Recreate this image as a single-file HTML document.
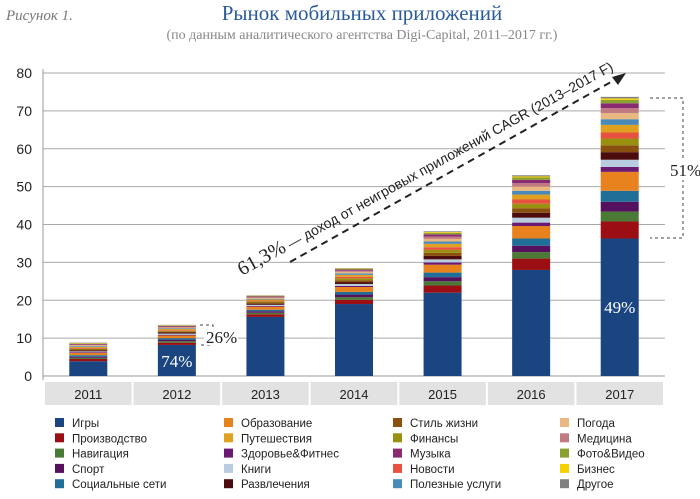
<!DOCTYPE html>
<html><head><meta charset="utf-8"><style>
body{margin:0;background:#fff;}
svg{display:block;font-family:"Liberation Sans","Noto Sans CJK SC",sans-serif;}
</style></head><body>
<svg id="c" width="700" height="499" viewBox="0 0 700 499">
<text x="6" y="20" font-family="Liberation Serif,serif" font-style="italic" font-size="15" fill="#777">Рисунок 1.</text>
<text x="362" y="20" text-anchor="middle" font-family="Liberation Serif,serif" font-size="21" fill="#2a5a9a">Рынок мобильных приложений</text>
<text x="362" y="39" text-anchor="middle" font-family="Liberation Serif,serif" font-size="14" fill="#888">(по данным аналитического агентства Digi-Capital, 2011–2017 гг.)</text>
<g id="grid"></g><g id="bars"></g><g id="legend"></g>
</svg>
<script>
const years=["2011","2012","2013","2014","2015","2016","2017"];
const yTicks=[0,10,20,30,40,50,60,70,80];
const names=["Игры","Производство","Навигация","Спорт","Социальные сети","Образование","Здоровье&Фитнес","Книги","Развлечения","Стиль жизни","Финансы","Новости","Путешествия","Полезные услуги","Погода","Медицина","Музыка","Фото&Видео","Бизнес","Другое"];
const legendOrder=["Игры","Производство","Навигация","Спорт","Социальные сети","Образование","Путешествия","Здоровье&Фитнес","Книги","Развлечения","Стиль жизни","Финансы","Музыка","Новости","Полезные услуги","Погода","Медицина","Фото&Видео","Бизнес","Другое"];
const colors=["#1b4580","#9b0f14","#4a7a35","#55105e","#1f6f98","#e8821e","#6a1a70","#b8cde0","#4a0c0c","#8a5010","#9a9010","#e85040","#e0a020","#4a8ab8","#e8b880","#c07a80","#8a2a70","#8aa030","#f5d000","#808080"];
const games=[3.9,8.2,15.6,19.0,22.0,28.0,36.3];
const prod=[0.6,0.6,0.7,1.1,1.9,3.0,4.5];
const nav=[0.3,0.4,0.4,0.7,1.1,1.7,2.6];
const sport=[0.3,0.4,0.4,0.7,1.1,1.7,2.6];
const social=[0.4,0.4,0.4,0.7,1.2,1.9,2.9];
const edu=[0.6,0.7,0.8,1.3,2.1,3.3,5.0];
const health=[0.2,0.2,0.2,0.3,0.6,0.9,1.3];
const books=[0.2,0.3,0.3,0.5,0.8,1.3,1.9];
const ent=[0.3,0.3,0.3,0.5,0.9,1.3,2.0];
const life=[0.2,0.2,0.3,0.5,0.8,1.2,1.8];
const fin=[0.2,0.2,0.3,0.5,0.8,1.2,1.8];
const news=[0.2,0.2,0.2,0.4,0.7,1.1,1.6];
const travel=[0.3,0.3,0.3,0.5,0.9,1.3,2.0];
const util=[0.2,0.2,0.2,0.4,0.6,1.0,1.5];
const weather=[0.2,0.2,0.2,0.4,0.7,1.1,1.6];
const med=[0.2,0.2,0.2,0.3,0.6,0.9,1.3];
const music=[0.2,0.2,0.2,0.3,0.6,0.9,1.3];
const photo=[0.1,0.1,0.1,0.2,0.4,0.6,0.9];
const biz=[0.1,0.1,0.1,0.1,0.2,0.3,0.4];
const other=[0.1,0.1,0.1,0.1,0.2,0.3,0.4];
const series=[games,prod,nav,sport,social,edu,health,books,ent,life,fin,news,travel,util,weather,med,music,photo,biz,other];
const NS="http://www.w3.org/2000/svg";
const X0=43,X1=665,Y0=376,Y80=73;
const y=v=>Y0-(v/80)*(Y0-Y80);
const band=(X1-X0-2)/7;
const bx=i=>X0+2+i*band;
function mk(t,a,p){const e=document.createElementNS(NS,t);for(const k in a)e.setAttribute(k,a[k]);(p||document.getElementById('c')).appendChild(e);return e;}
const G=document.getElementById('grid'),B=document.getElementById('bars'),L=document.getElementById('legend');
yTicks.forEach(t=>{
 const l=mk('line',{x1:X0,x2:X1,y1:y(t),y2:y(t),stroke:t==0?'#999':'#aaa','stroke-width':1},G);
 
 
 const tx=mk('text',{x:32,y:y(t)+5,'text-anchor':'end','font-size':14,fill:'#222'},G);tx.textContent=t;
 
 
});
mk('line',{x1:X0,x2:X0,y1:Y80-4,y2:Y0+4,stroke:'#999'},G);
years.forEach((yr,i)=>{
 const r=mk('rect',{x:bx(i),y:382,width:band-2,height:23,fill:'#e2e2e2'},G);
 
 
 const t=mk('text',{x:bx(i)+(band-2)/2,y:399,'text-anchor':'middle','font-size':13,fill:'#222'},G);t.textContent=yr;
 
 
 let acc=0;const cx=bx(i)+(band-2)/2,w=38;
 series.forEach((s,k)=>{
  const r2=mk('rect',{x:cx-w/2,y:y(acc+s[i]),width:w,height:Math.max(0,y(acc)-y(acc+s[i])),fill:colors[k]},B);
  
  
  acc+=s[i];
 });
});
legendOrder.forEach((n,j)=>{
 const k=names.indexOf(n);
 const col=Math.floor(j/5),row=j%5;
 const lx=[55,224,393,560][col],ly=423+row*15.3;
 const r=mk('rect',{x:lx,y:ly-5,width:9,height:9,fill:colors[k]},L);
 
 
 const t=mk('text',{x:lx+17,y:ly+4,'font-size':11.5,fill:'#222'},L);t.textContent=n;
 
 
});
const srf='Liberation Serif,serif';
const t74=mk('text',{x:bx(1)+(band-2)/2,y:367,'text-anchor':'middle','font-size':17,fill:'#fff','font-family':srf},B);t74.textContent='74%';


const t49=mk('text',{x:bx(6)+(band-2)/2,y:313,'text-anchor':'middle','font-size':17,fill:'#fff','font-family':srf},B);t49.textContent='49%';


const br1=mk('path',{d:'M200 325 H213 V345 H200',fill:'none',stroke:'#444','stroke-dasharray':'3,3'},B);


const r26=mk('rect',{x:204,y:327,width:34,height:18,fill:'#fff'},B);


const t26=mk('text',{x:206,y:343,'font-size':17,fill:'#222','font-family':srf},B);t26.textContent='26%';


const br2=mk('path',{d:'M650 98 H683 V238 H650',fill:'none',stroke:'#444','stroke-dasharray':'3,3'},B);


const r51=mk('rect',{x:668,y:158,width:32,height:22,fill:'#fff'},B);


const t51=mk('text',{x:670,y:176,'font-size':17,fill:'#222','font-family':srf},B);t51.textContent='51%';


const ar=mk('line',{x1:290,y1:262,x2:618,y2:78,stroke:'#222','stroke-width':2,'stroke-dasharray':'7,5'},B);


const ah=mk('path',{d:'M626 73 L612 77 L618 85 Z',fill:'#222'},B);


const tc=mk('text',{x:0,y:0,'font-size':14,fill:'#222',transform:'translate(242,276) rotate(-29)'},B);
tc.innerHTML='<tspan font-family="Liberation Serif,serif" font-size="20">61,3%</tspan> — доход от неигровых приложений CAGR (2013–2017 F)';


</script>
</body></html>
